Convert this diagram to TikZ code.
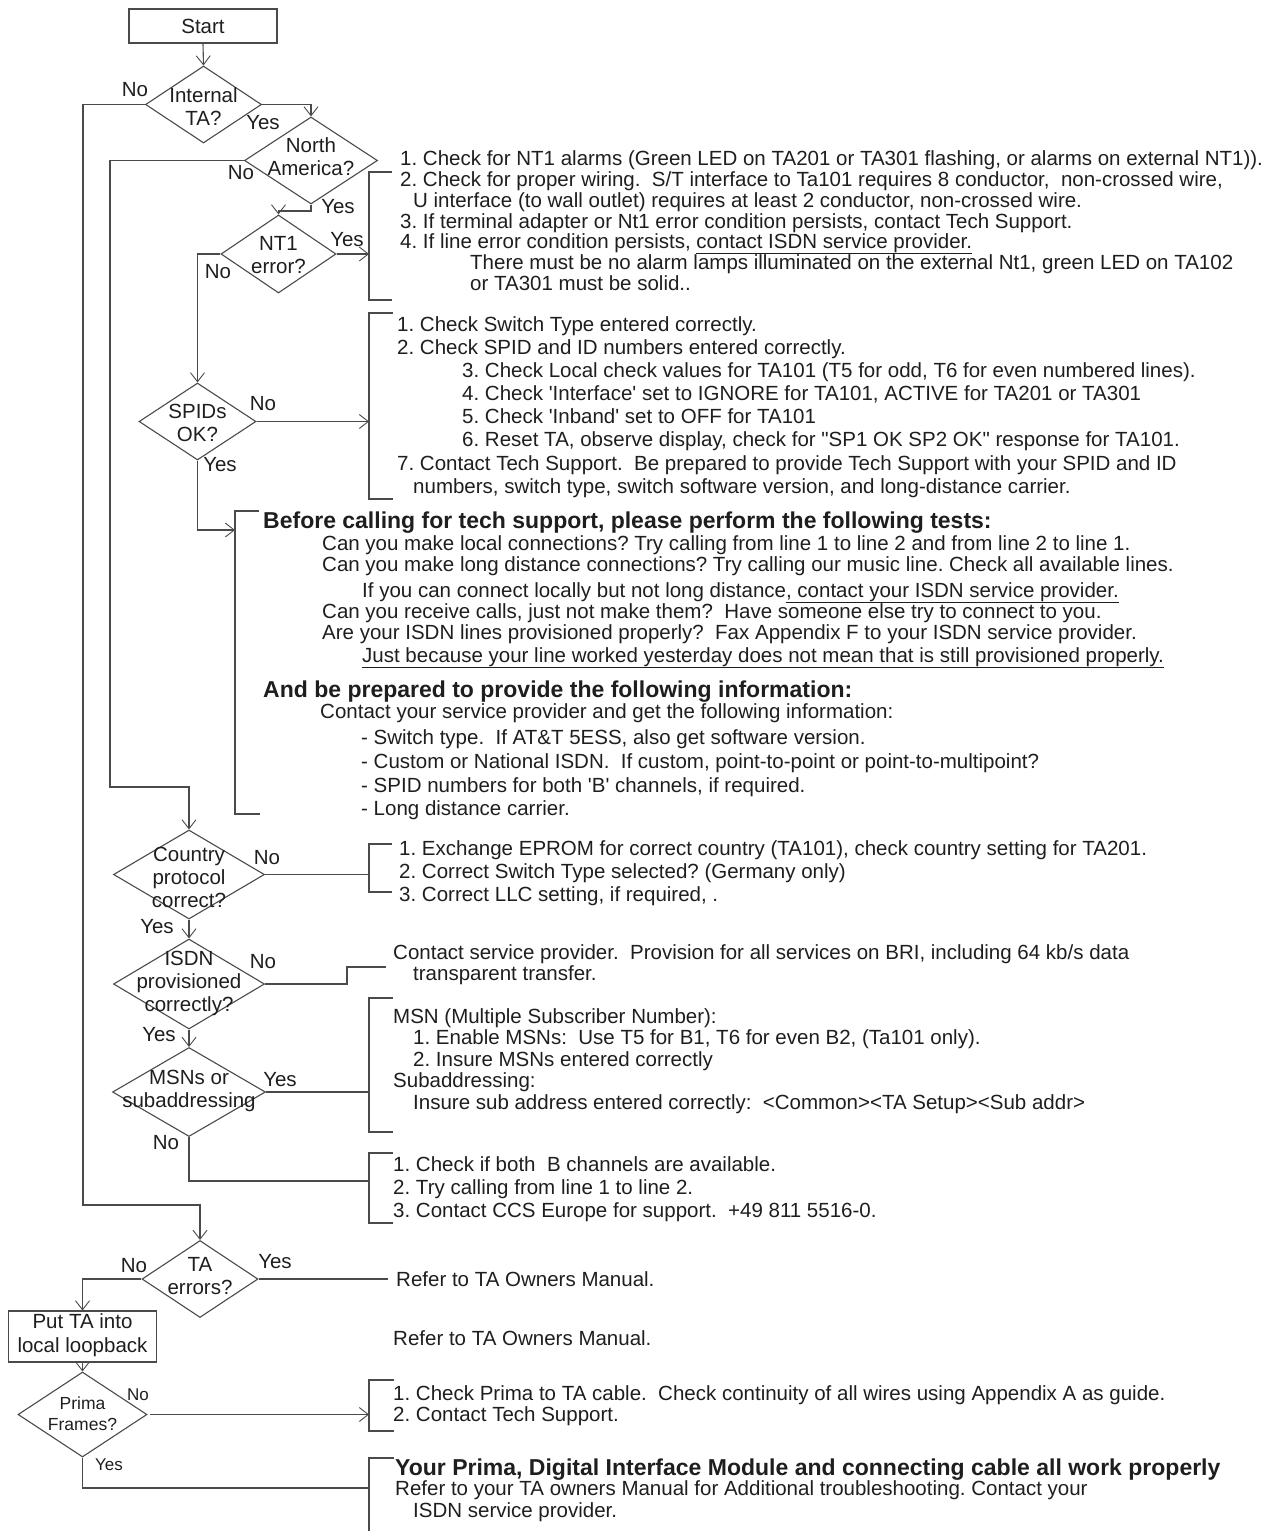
\documentclass[tikz,border=0pt]{standalone}
\usepackage{fontspec}
\setmainfont{Liberation Sans}
\usetikzlibrary{shapes.geometric,arrows.meta}
\definecolor{linec}{HTML}{4A4A4A}
\definecolor{txtc}{HTML}{1E1E1E}
\frenchspacing
\begin{document}
\begin{tikzpicture}[x=1pt,y=-1pt,
  every node/.style={text=txtc},
  conn/.style={draw=linec, line width=1.1pt},
  arr/.style={conn, -{Straight Barb[length=9pt,width=14pt,line width=0.9pt]}},
  dia/.style={diamond, draw=linec, line width=1.1pt, inner sep=0pt},
  box/.style={rectangle, draw=linec, line width=1.1pt, inner sep=0pt},
  dtext/.style={align=center, font=\fontsize{20.5}{23}\selectfont, inner sep=0pt},
  lbl/.style={font=\fontsize{20.5}{23}\selectfont, inner sep=0pt},
  slbl/.style={font=\fontsize{17}{20}\selectfont, inner sep=0pt},
  ln/.style={anchor=base west, font=\fontsize{20.5}{23}\selectfont, inner sep=0pt},
  bln/.style={anchor=base west, font=\fontsize{23}{26}\bfseries\selectfont, inner sep=0pt},
  brk/.style={draw=linec, line width=1.1pt},
]
\useasboundingbox (0,0) rectangle (1286,1531);

% ---------- flow nodes ----------
\node[box, minimum width=148pt, minimum height=34pt] (start) at (203,26) {};
\node[lbl] (startT) at (start.center) {Start};

\node[dia, minimum width=116pt, minimum height=77pt] (intTA) at (203.5,104.5) {};
\node[dtext] (intTAt) at (203.5,107) {Internal\\TA?};

\node[dia, minimum width=133pt, minimum height=87pt] (northAm) at (311,160.5) {};
\node[dtext] (northAmt) at (311,157) {North\\America?};

\node[dia, minimum width=115pt, minimum height=78pt] (nt1) at (278.5,254) {};
\node[dtext] (nt1t) at (278.5,255) {NT1\\error?};

\node[dia, minimum width=117pt, minimum height=77pt] (spids) at (197.5,421.5) {};
\node[dtext] (spidst) at (197.5,423) {SPIDs\\OK?};

\node[dia, minimum width=151pt, minimum height=89pt] (country) at (189,874.5) {};
\node[dtext] (countryt) at (189,877) {Country\\protocol\\correct?};

\node[dia, minimum width=151pt, minimum height=90pt] (isdn) at (189,984) {};
\node[dtext] (isdnt) at (189,983) {ISDN\\provisioned\\correctly?};

\node[dia, minimum width=153pt, minimum height=89pt] (msn) at (189,1092) {};
\node[dtext] (msnt) at (189,1091) {MSNs or\\subaddressing};

\node[dia, minimum width=116pt, minimum height=77pt] (taerr) at (200,1279) {};
\node[dtext] (taerrt) at (200,1276) {TA\\errors?};

\node[box, minimum width=148pt, minimum height=51pt] (loop) at (82.5,1336.5) {};
\node[dtext, font=\fontsize{20.5}{24}\selectfont] (loopt) at (82.5,1335) {Put TA into\\local loopback};

\node[dia, minimum width=129pt, minimum height=85pt] (prima) at (82.5,1414.5) {};
\node[dtext, font=\fontsize{17.5}{21}\selectfont] (primat) at (82.5,1414) {Prima\\Frames?};

% ---------- yes / no labels ----------
\node[lbl] (l1) at (135,90) {No};
\node[lbl] (l2) at (263,123) {Yes};
\node[lbl] (l3) at (241,173) {No};
\node[lbl] (l4) at (338,207) {Yes};
\node[lbl] (l5) at (347,240) {Yes};
\node[lbl] (l6) at (218,272) {No};
\node[lbl] (l7) at (263,404) {No};
\node[lbl] (l8) at (220,465) {Yes};
\node[lbl] (l9) at (267,858) {No};
\node[lbl] (l10) at (157,927) {Yes};
\node[lbl] (l11) at (263,962) {No};
\node[lbl] (l12) at (159,1035) {Yes};
\node[lbl] (l13) at (280,1080) {Yes};
\node[lbl] (l14) at (166,1143) {No};
\node[lbl] (l15) at (134,1266) {No};
\node[lbl] (l16) at (275,1262) {Yes};
\node[slbl] (l17) at (138,1395) {No};
\node[slbl] (l18) at (109,1465) {Yes};

% ---------- bracket entry points ----------
\coordinate (b1in) at (369,254);
\coordinate (b2in) at (369,421.5);
\coordinate (b3in) at (235,530);
\coordinate (b4in) at (369,874.5);
\coordinate (b5in) at (386,967);
\coordinate (b6in) at (369,1092);
\coordinate (b7in) at (369,1181);
\coordinate (b8in) at (388,1279);
\coordinate (b9in) at (369,1414.5);
\coordinate (b10in) at (369,1488);
\coordinate (primaOut) at (150,1414.5);

% ---------- connectors ----------
\draw[arr] (start.south) -- (intTA.north);
\draw[arr] (intTA.east) -| (northAm.north);
\draw[arr] (intTA.west) -- (83,104.5) -- (83,1205) -| (taerr.north);
\draw[arr] (northAm.west) -- (110,160.5) -- (110,787) -| (country.north);
\draw[arr] (northAm.south) -- (311,211) -| (nt1.north);
\draw[arr] (nt1.east) -- (b1in);
\draw[arr] (nt1.west) -| (spids.north);
\draw[arr] (spids.east) -- (b2in);
\draw[arr] (spids.south) |- (b3in);
\draw[conn] (country.east) -- (b4in);
\draw[arr] (country.south) -- (isdn.north);
\draw[conn] (isdn.east) -- (347,984) |- (b5in);
\draw[arr] (isdn.south) -- (msn.north);
\draw[conn] (msn.east) -- (b6in);
\draw[conn] (msn.south) |- (b7in);
\draw[conn] (taerr.east) -- (b8in);
\draw[arr] (taerr.west) -| (loop.north);
\draw[arr] (loop.south) -- (prima.north);
\draw[arr] (primaOut) -- (b9in);
\draw[conn] (prima.south) |- (b10in);

% ---------- brackets ----------
\draw[brk] (392,172) -- (369,172) -- (369,300) -- (392,300);
\draw[brk] (393,313) -- (369,313) -- (369,499) -- (393,499);
\draw[brk] (259,511) -- (235,511) -- (235,814) -- (260,814);
\draw[brk] (392,844) -- (369,844) -- (369,892) -- (392,892);
\draw[brk] (393,998) -- (369,998) -- (369,1132) -- (393,1132);
\draw[brk] (393,1153) -- (369,1153) -- (369,1223) -- (393,1223);
\draw[brk] (394,1380) -- (369,1380) -- (369,1431) -- (394,1431);
\draw[brk] (394,1458) -- (369,1458) -- (369,1531);

% ---------- block 1 ----------
\node[ln] (a1) at (400,165) {1. Check for NT1 alarms (Green LED on TA201 or TA301 flashing, or alarms on external NT1)).};
\node[ln] (a2) at (400,186) {2. Check for proper wiring.\ \ S/T interface to Ta101 requires 8 conductor,\ \ non-crossed wire,};
\node[ln] (a3) at (413,207) {U interface (to wall outlet) requires at least 2 conductor, non-crossed wire.};
\node[ln] (a4) at (400,228) {3. If terminal adapter or Nt1 error condition persists, contact Tech Support.};
\node[ln] (a5) at (400,248) {4. If line error condition persists, \underline{contact ISDN service provider.}};
\node[ln] (a6) at (470,269) {There must be no alarm lamps illuminated on the external Nt1, green LED on TA102};
\node[ln] (a7) at (470,290) {or TA301 must be solid..};

% ---------- block 2 ----------
\node[ln] (c1) at (397,331) {1. Check Switch Type entered correctly.};
\node[ln] (c2) at (397,354) {2. Check SPID and ID numbers entered correctly.};
\node[ln] (c3) at (462,377) {3. Check Local check values for TA101 (T5 for odd, T6 for even numbered lines).};
\node[ln] (c4) at (462,400) {4. Check \textquotesingle Interface\textquotesingle\ set to IGNORE for TA101, ACTIVE for TA201 or TA301};
\node[ln] (c5) at (462,423) {5. Check \textquotesingle Inband\textquotesingle\ set to OFF for TA101};
\node[ln] (c6) at (462,446) {6. Reset TA, observe display, check for \textquotedbl SP1 OK SP2 OK\textquotedbl\ response for TA101.};
\node[ln] (c7) at (397,470) {7. Contact Tech Support.\ \ Be prepared to provide Tech Support with your SPID and ID};
\node[ln] (c8) at (413,493) {numbers, switch type, switch software version, and long-distance carrier.};

% ---------- block 3 ----------
\node[bln] (d1) at (263,528) {Before calling for tech support, please perform the following tests:};
\node[ln] (d2) at (322,550) {Can you make local connections? Try calling from line 1 to line 2 and from line 2 to line 1.};
\node[ln] (d3) at (322,571) {Can you make long distance connections? Try calling our music line. Check all available lines.};
\node[ln] (d4) at (362,597) {If you can connect locally but not long distance\underline{, contact your ISDN service provider.}};
\node[ln] (d5) at (322,618) {Can you receive calls, just not make them?\ \ Have someone else try to connect to you.};
\node[ln] (d6) at (322,639) {Are your ISDN lines provisioned properly?\ \ Fax Appendix F to your ISDN service provider.};
\node[ln] (d7) at (362,662) {\underline{Just because your line worked yesterday does not mean that is still provisioned properly.}};
\node[bln] (d8) at (263,697) {And be prepared to provide the following information:};
\node[ln] (d9) at (320,718) {Contact your service provider and get the following information:};
\node[ln] (d10) at (361,744) {- Switch type.\ \ If AT\&T 5ESS, also get software version.};
\node[ln] (d11) at (361,768) {- Custom or National ISDN.\ \ If custom, point-to-point or point-to-multipoint?};
\node[ln] (d12) at (361,792) {- SPID numbers for both \textquotesingle B\textquotesingle\ channels, if required.};
\node[ln] (d13) at (361,815) {- Long distance carrier.};

% ---------- block 4 ----------
\node[ln] (e1) at (399,855) {1. Exchange EPROM for correct country (TA101), check country setting for TA201.};
\node[ln] (e2) at (399,878) {2. Correct Switch Type selected? (Germany only)};
\node[ln] (e3) at (399,901) {3. Correct LLC setting, if required, .};

% ---------- block 5 ----------
\node[ln] (f1) at (393,959) {Contact service provider.\ \ Provision for all services on BRI, including 64 kb/s data};
\node[ln] (f2) at (413,980) {transparent transfer.};

% ---------- block 6 ----------
\node[ln] (g1) at (393,1023) {MSN (Multiple Subscriber Number):};
\node[ln] (g2) at (413,1044) {1. Enable MSNs:\ \ Use T5 for B1, T6 for even B2, (Ta101 only).};
\node[ln] (g3) at (413,1066) {2. Insure MSNs entered correctly};
\node[ln] (g4) at (393,1087) {Subaddressing:};
\node[ln] (g5) at (413,1109) {Insure sub address entered correctly:\ \ <Common><TA Setup><Sub addr>};

% ---------- block 7 ----------
\node[ln] (h1) at (393,1171) {1. Check if both\ \ B channels are available.};
\node[ln] (h2) at (393,1194) {2. Try calling from line 1 to line 2.};
\node[ln] (h3) at (393,1217) {3. Contact CCS Europe for support.\ \ +49 811 5516-0.};

% ---------- TA / loopback ----------
\node[ln] (i1) at (396,1286) {Refer to TA Owners Manual.};
\node[ln] (i2) at (393,1345) {Refer to TA Owners Manual.};

% ---------- Prima ----------
\node[ln] (j1) at (393,1400) {1. Check Prima to TA cable.\ \ Check continuity of all wires using Appendix A as guide.};
\node[ln] (j2) at (393,1421) {2. Contact Tech Support.};

\node[bln] (k1) at (395,1475) {Your Prima, Digital Interface Module and connecting cable all work properly};
\node[ln] (k2) at (395,1495) {Refer to your TA owners Manual for Additional troubleshooting. Contact your};
\node[ln] (k3) at (413,1517) {ISDN service provider.};
\end{tikzpicture}
\end{document}
